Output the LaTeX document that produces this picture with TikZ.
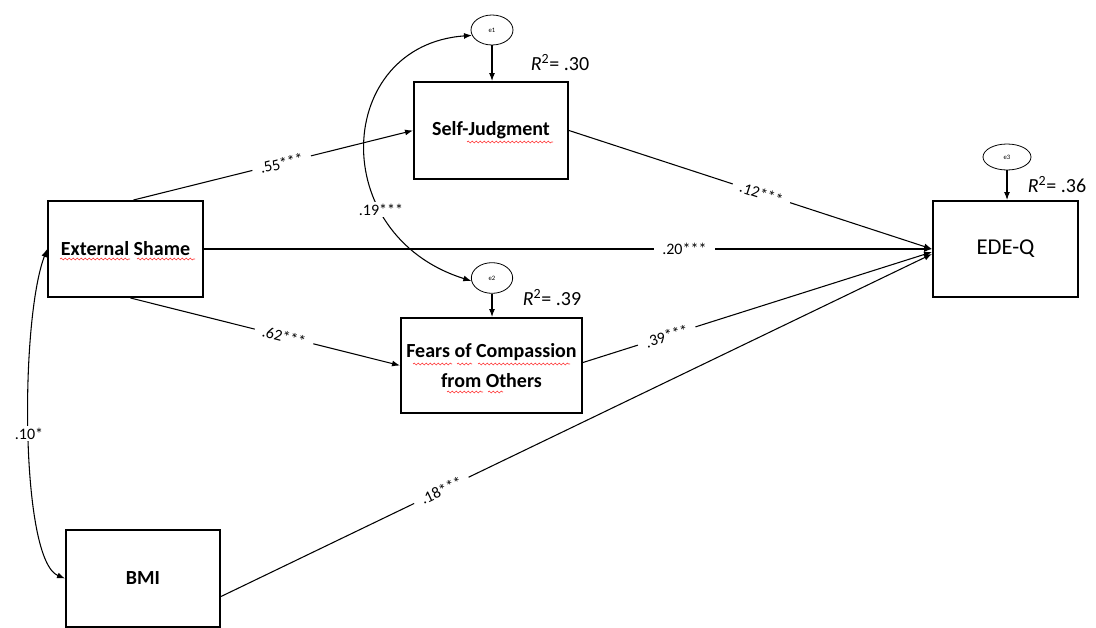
\documentclass[tikz,border=0pt]{standalone}
\usepackage{fontspec}
\setmainfont{Carlito}
\usetikzlibrary{arrows.meta,shapes.geometric,calc,decorations.pathmorphing}
\begin{document}
\begin{tikzpicture}[x=0.75pt,y=-0.75pt,
  box/.style={draw, line width=1.5pt, rectangle, align=center, inner sep=0pt,
    font=\fontsize{15}{22.5}\selectfont\bfseries},
  err/.style={draw, ellipse, line width=0.6pt, inner sep=0pt, font=\fontsize{5}{6}\selectfont},
  arr/.style={-{Latex[length=6pt,width=4.5pt]}, line width=0.8pt},
  dbl/.style={{Latex[length=6pt,width=4.5pt]}-{Latex[length=6pt,width=4.5pt]}, line width=0.8pt},
  lbl/.style={fill=white, inner xsep=6pt, inner ysep=1pt, font=\fontsize{12}{14}\selectfont},
  rsq/.style={font=\fontsize{15}{18}\selectfont},
  squig/.style={draw=red!75, line width=0.5pt, decorate, decoration={snake, amplitude=0.7pt, segment length=3pt}}
]
\useasboundingbox (0,0) rectangle (1096,628);

% boxes
\node[box, minimum width=116pt, minimum height=72pt] (es) at (125.5,249) {External Shame};
\node[box, minimum width=115.5pt, minimum height=72.75pt] (sj) at (491,130.5) {Self-Judgment};
\node[box, minimum width=135.75pt, minimum height=71.25pt] (fc) at (491.5,365.5) {Fears of Compassion\\from Others};
\node[box, minimum width=108.75pt, minimum height=72pt, font=\fontsize{17}{20}\selectfont] (ede) at (1005.5,249) {EDE-Q};
\node[box, minimum width=115.5pt, minimum height=72.75pt] (bmi) at (143,578.5) {BMI};

% error terms
\node[err, minimum width=31.5pt, minimum height=22.5pt] (e1) at (492,30) {e1};
\node[err, minimum width=31pt, minimum height=23pt] (e2) at (492,278) {e2};
\node[err, minimum width=36pt, minimum height=19.5pt] (e3) at (1007,157) {e3};

% R squared
\node[rsq] (r1) at (560,63) {\textit{R}\textsuperscript{2}= .30};
\node[rsq] (r2) at (552,298) {\textit{R}\textsuperscript{2}= .39};
\node[rsq] (r3) at (1057,185) {\textit{R}\textsuperscript{2}= .36};

% error arrows
\draw[arr] (e1.south) -- (e1.south |- sj.north);
\draw[arr] (e2.south) -- (e2.south |- fc.north);
\draw[arr] (e3.south) -- (e3.south |- ede.north);

% paths
\draw[arr] ($(es.north)+(8,0)$) -- node[lbl, sloped, pos=0.53] {.55***} (sj.west);
\draw[arr] ($(es.south)+(5,0)$) -- node[lbl, sloped, pos=0.57] {.62***} (fc.west);
\draw[arr] (es.east) -- node[lbl, pos=0.66] {.20***} (ede.west);
\draw[arr] (sj.east) -- node[lbl, sloped, pos=0.53] {.12***} (ede.west);
\draw[arr] ($(fc.east)+(0,-3)$) -- node[lbl, sloped, pos=0.24] {.39***} ($(ede.west)+(0,3)$);
\draw[arr] ($(bmi.east)+(0,18)$) -- node[lbl, sloped, pos=0.31] {.18***} ($(ede.west)+(0,5)$);

% covariances
\draw[dbl] (e1.195) .. controls (335,45) and (325,235) .. node[lbl, pos=0.7] {.19***} (e2.188);
\draw[dbl] (es.west) .. controls (20,320) and (20,560) .. node[lbl, pos=0.5] {.10*} (bmi.west);

% spell-check squiggles
\draw[squig] (60,259) -- (130,259);
\draw[squig] (137,259) -- (195,259);
\draw[squig] (467,142) -- (553,142);
\draw[squig] (413,364) -- (452,364);
\draw[squig] (457,364) -- (472,364);
\draw[squig] (478,364) -- (570,364);
\draw[squig] (447,392) -- (483,392);
\draw[squig] (488,392) -- (503,392);
\end{tikzpicture}
\end{document}
